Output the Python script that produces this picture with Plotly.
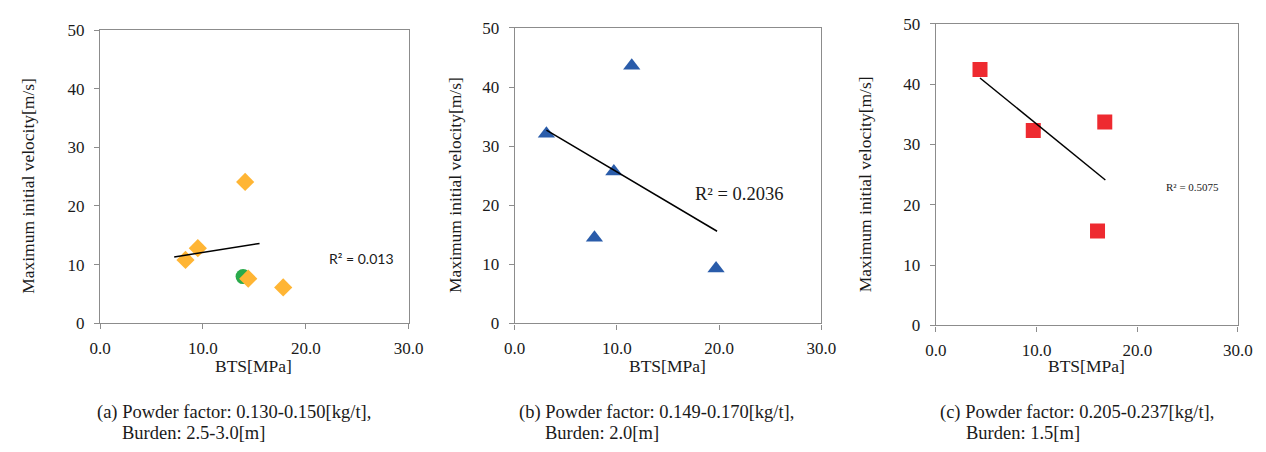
import plotly.graph_objects as go

# ---- data ----
# (a)
a_x = [8.3, 9.5, 14.1, 14.4, 17.8]
a_y = [10.8, 12.8, 24.1, 7.6, 6.1]
a_circle_x = [13.9]
a_circle_y = [7.95]
a_trend_x = [7.2, 15.5]
a_trend_y = [11.3, 13.6]
a_r2 = "R² = 0.013"
# (b)
b_x = [3.1, 11.45, 9.7, 7.8, 19.7]
b_y = [32.1, 43.6, 25.7, 14.5, 9.3]
b_trend_x = [3.1, 19.8]
b_trend_y = [32.7, 15.6]
b_r2 = "R² = 0.2036"
# (c)
c_x = [4.38, 9.67, 16.77, 16.05]
c_y = [42.4, 32.3, 33.7, 15.65]
c_trend_x = [4.38, 16.83]
c_trend_y = [41.0, 24.1]
c_r2 = "R² = 0.5075"

x_ticks = [0, 10, 20, 30]
y_ticks = [0, 10, 20, 30, 40, 50]
x_title = "BTS[MPa]"
y_title = "Maximum initial velocity[m/s]"
captions = [
    ("(a) Powder factor: 0.130-0.150[kg/t],", "Burden: 2.5-3.0[m]"),
    ("(b) Powder factor: 0.149-0.170[kg/t],", "Burden: 2.0[m]"),
    ("(c) Powder factor: 0.205-0.237[kg/t],", "Burden: 1.5[m]"),
]

W, H = 1266, 452
SERIF = "Liberation Serif"
AX = "#8c8c8c"
TXT = "#1a1a1a"

fig = go.Figure()

# panel pixel boxes: left, right, top, bottom
boxes = [(91, 406, 22, 328), (514.3, 827.3, 19.7, 328.3), (944.3, 1252.7, 15.3, 330.3)]

def px(x):
    return x / W

def py(y):
    return 1 - y / H

# traces
fig.add_trace(go.Scatter(x=a_circle_x, y=a_circle_y, mode="markers", xaxis="x", yaxis="y",
                         marker=dict(symbol="circle", size=15, color="#2aaa4b"), showlegend=False))
fig.add_trace(go.Scatter(x=a_x, y=a_y, mode="markers", xaxis="x", yaxis="y",
                         marker=dict(symbol="diamond", size=14, color="#ffb534"), showlegend=False))
fig.add_trace(go.Scatter(x=a_trend_x, y=a_trend_y, mode="lines", xaxis="x", yaxis="y",
                         line=dict(color="black", width=1.5), showlegend=False))

fig.add_trace(go.Scatter(x=b_x, y=b_y, mode="markers", xaxis="x2", yaxis="y2",
                         marker=dict(symbol="triangle-up", size=15, color="#2a5caa"), showlegend=False))
fig.add_trace(go.Scatter(x=b_trend_x, y=b_trend_y, mode="lines", xaxis="x2", yaxis="y2",
                         line=dict(color="black", width=1.5), showlegend=False))

fig.add_trace(go.Scatter(x=c_x, y=c_y, mode="markers", xaxis="x3", yaxis="y3",
                         marker=dict(symbol="square", size=15, color="#ee2a30"), showlegend=False))
fig.add_trace(go.Scatter(x=c_trend_x, y=c_trend_y, mode="lines", xaxis="x3", yaxis="y3",
                         line=dict(color="black", width=1.5), showlegend=False))

layout = dict(
    width=W, height=H,
    margin=dict(l=0, r=0, t=0, b=0),
    paper_bgcolor="white", plot_bgcolor="white",
    font=dict(family=SERIF, size=16, color=TXT),
    showlegend=False,
)

annotations = []
for i, (l, r, t, b) in enumerate(boxes):
    sfx = "" if i == 0 else str(i + 1)
    layout["xaxis" + sfx] = dict(
        domain=[px(l), px(r)], range=[0, 30], anchor="y" + sfx,
        tickvals=x_ticks, ticktext=[f"{v:.1f}" for v in x_ticks],
        showline=True, linecolor=AX, linewidth=1.3, mirror=True,
        ticks="outside", ticklen=5, tickcolor=AX, showgrid=False, zeroline=False,
        ticklabelstandoff=4,
        tickfont=dict(family=SERIF, size=17, color=TXT),
    )
    layout["yaxis" + sfx] = dict(
        domain=[py(b), py(t)], range=[0, 50], anchor="x" + sfx,
        tickvals=y_ticks,
        showline=True, linecolor=AX, linewidth=1.3, mirror=True,
        ticks="outside", ticklen=5, tickcolor=AX, showgrid=False, zeroline=False,
        ticklabelstandoff=6,
        tickfont=dict(family=SERIF, size=17, color=TXT),
    )

# axis titles as annotations
ytitle_x = [18, 454, 872]
xtitle_x = [248, 670, 1098]
for i in range(3):
    l, r, t, b = boxes[i]
    annotations.append(dict(text=y_title, x=px(ytitle_x[i]), y=py((t + b) / 2 + 10), xref="paper", yref="paper",
                            textangle=-90, showarrow=False, xanchor="center", yanchor="middle",
                            font=dict(family=SERIF, size=17.5, color=TXT)))
    annotations.append(dict(text=x_title, x=px(xtitle_x[i]), y=py(373), xref="paper", yref="paper",
                            showarrow=False, xanchor="center", yanchor="middle",
                            font=dict(family=SERIF, size=17.5, color=TXT)))

# captions
cap1_x = [86, 516.7, 946.7]
cap2_x = [111, 543.3, 972.7]
for i, (c1, c2) in enumerate(captions):
    annotations.append(dict(text=c1, x=px(cap1_x[i]), y=py(421), xref="paper", yref="paper",
                            showarrow=False, xanchor="left", yanchor="middle",
                            font=dict(family=SERIF, size=18.5, color=TXT)))
    annotations.append(dict(text=c2, x=px(cap2_x[i]), y=py(443), xref="paper", yref="paper",
                            showarrow=False, xanchor="left", yanchor="middle",
                            font=dict(family=SERIF, size=18.5, color=TXT)))

# R² labels
annotations.append(dict(text=a_r2, x=px(358), y=py(260), xref="paper", yref="paper", showarrow=False,
                        xanchor="center", yanchor="middle", font=dict(family="Lato", size=14, color=TXT)))
annotations.append(dict(text=b_r2, x=px(743.3), y=py(193.3), xref="paper", yref="paper", showarrow=False,
                        xanchor="center", yanchor="middle", font=dict(family=SERIF, size=18.5, color=TXT)))
annotations.append(dict(text=c_r2, x=px(1206.7), y=py(185.7), xref="paper", yref="paper", showarrow=False,
                        xanchor="center", yanchor="middle", font=dict(family=SERIF, size=11, color=TXT)))

layout["annotations"] = annotations
fig.update_layout(**layout)
fig.write_html("out.html")
